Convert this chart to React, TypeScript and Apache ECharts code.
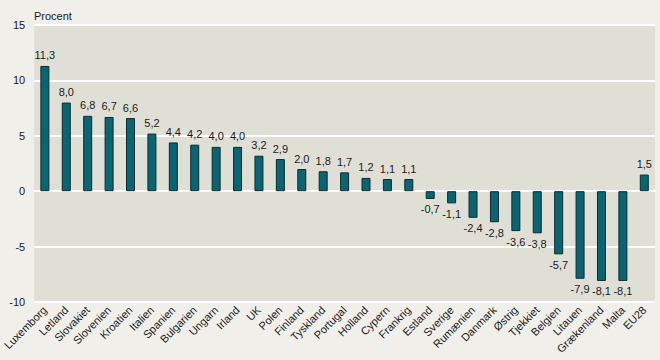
import React, { useEffect, useRef } from "react";
import * as echarts from "echarts";

const categories = [
  "Luxemborg", "Letland", "Slovakiet", "Slovenien", "Kroatien", "Italien", "Spanien",
  "Bulgarien", "Ungarn", "Irland", "UK", "Polen", "Finland", "Tyskland", "Portugal",
  "Holland", "Cypern", "Frankrig", "Estland", "Sverige", "Rumænien", "Danmark",
  "Østrig", "Tjekkiet", "Belgien", "Litauen", "Grækenland", "Malta", "EU28",
];
const values = [
  11.3, 8.0, 6.8, 6.7, 6.6, 5.2, 4.4, 4.2, 4.0, 4.0, 3.2, 2.9, 2.0, 1.8, 1.7,
  1.2, 1.1, 1.1, -0.7, -1.1, -2.4, -2.8, -3.6, -3.8, -5.7, -7.9, -8.1, -8.1, 1.5,
];
const yTicks = { min: -10, max: 15, interval: 5 };
const unitLabel = "Procent";

const FONT = "'Liberation Sans', Arial, sans-serif";

export default function App() {
  const ref = useRef<HTMLDivElement>(null);
  useEffect(() => {
    document.body.style.margin = "0";
    document.body.style.background = "#f0efea";
    const chart = echarts.init(ref.current!, null, { renderer: "svg" });
    chart.setOption({
      animation: false,
      backgroundColor: "#f0efea",
      textStyle: { fontFamily: FONT },
      title: {
        text: unitLabel,
        left: 29,
        top: 5,
        textStyle: { fontSize: 11, fontWeight: "normal", color: "#1a1a1a", fontFamily: FONT },
      },
      grid: {
        left: 31,
        right: 5,
        top: 25,
        bottom: 58,
        show: true,
        backgroundColor: "#e0dfd6",
        borderWidth: 0,
      },
      xAxis: {
        type: "category",
        data: categories,
        axisLine: { show: true, lineStyle: { color: "#ffffff", width: 2 } },
        axisTick: { show: false },
        axisLabel: {
          interval: 0,
          rotate: 45,
          fontSize: 11,
          color: "#1a1a1a",
          margin: 6,
          fontFamily: FONT,
          // keep labels at bottom of plot
        },
        position: "bottom",
      },
      yAxis: {
        type: "value",
        min: yTicks.min,
        max: yTicks.max,
        interval: yTicks.interval,
        axisLine: { show: false },
        axisTick: { show: false },
        axisLabel: { fontSize: 11, color: "#1a1a1a", margin: 9, fontFamily: FONT },
        splitLine: { show: true, lineStyle: { color: "#ffffff", width: 2 } },
      },
      series: [
        {
          type: "bar",
          barWidth: 9,
          data: values.map((v) => ({
            value: v,
            label: { position: v >= 0 ? "top" : "bottom" },
          })),
          itemStyle: { color: "#0b6470", borderColor: "#0a2c32", borderWidth: 1 },
          label: {
            show: true,
            fontSize: 11,
            color: "#1a1a1a",
            distance: 5,
            fontFamily: FONT,
            formatter: (p: any) => Number(p.value).toFixed(1).replace(".", ","),
          },
        },
      ],
    });
    return () => chart.dispose();
  }, []);
  return (
    <div
      ref={ref}
      style={{ position: "absolute", left: 0, top: 0, width: 660, height: 360 }}
    />
  );
}
